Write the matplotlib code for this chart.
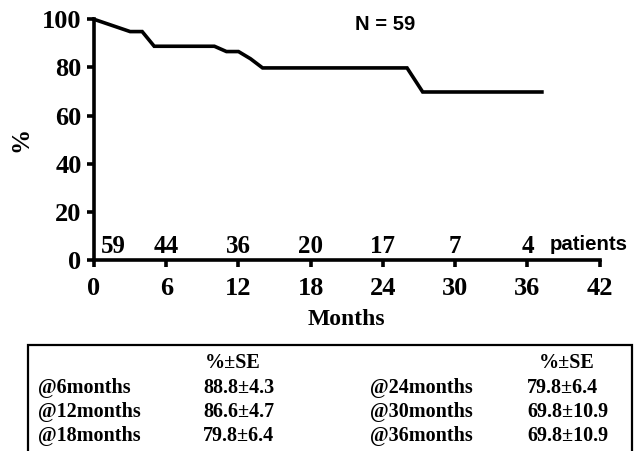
import matplotlib
matplotlib.use("Agg")
import matplotlib.pyplot as plt
from matplotlib.patches import Rectangle

# survival curve (months, %)
months = [0, 1, 2, 3, 4, 5, 10, 11, 12, 13, 14, 26, 27.3, 37.2]
survival = [100, 98.3, 96.6, 94.9, 94.9, 88.8, 88.8, 86.6, 86.6, 83.6, 79.8, 79.8, 69.8, 69.8]

# patients at risk
risk_months = [0, 6, 12, 18, 24, 30, 36]
risk_counts = [59, 44, 36, 20, 17, 7, 4]

x_ticks = [0, 6, 12, 18, 24, 30, 36, 42]
y_ticks = [0, 20, 40, 60, 80, 100]

# summary table
left_labels = ["@6months", "@12months", "@18months"]
left_values = ["88.8±4.3", "86.6±4.7", "79.8±6.4"]
right_labels = ["@24months", "@30months", "@36months"]
right_values = ["79.8±6.4", "69.8±10.9", "69.8±10.9"]

W, H = 637, 451
SERIF = "Liberation Serif"
SANS = "Liberation Sans"


def fx(px):
    return px / W


def fy(py):
    return 1 - py / H


fig = plt.figure(figsize=(W / 100, H / 100), dpi=100)
ax = fig.add_axes([fx(94), fy(260), fx(599.7) - fx(94), fy(19.3) - fy(260)])

ax.plot(months, survival, color="black", lw=2.6, clip_on=False,
        solid_joinstyle="miter")

ax.set_xlim(0, 42)
ax.set_ylim(0, 100)
ax.set_xticks(x_ticks)
ax.set_yticks(y_ticks)
for s in ["top", "right"]:
    ax.spines[s].set_visible(False)
for s in ["left", "bottom"]:
    ax.spines[s].set_linewidth(2.6)
ax.tick_params(axis="x", length=5, width=2.6, pad=7)
ax.tick_params(axis="y", length=5, width=2.6, pad=4)
for lab in ax.get_xticklabels() + ax.get_yticklabels():
    lab.set_fontfamily(SERIF)
    lab.set_fontweight("bold")
    lab.set_fontsize(19)

ax.set_xlabel("Months", fontfamily=SERIF, fontweight="bold", fontsize=17, labelpad=7)
ax.set_ylabel("%", fontfamily=SERIF, fontweight="bold", fontsize=18, labelpad=7)

# patient counts
for i, (m, c) in enumerate(zip(risk_months, risk_counts)):
    if i == 0:
        ax.annotate(str(c), (m, 5.6), xytext=(5, 0), textcoords="offset points",
                    ha="left", va="center", fontfamily=SERIF, fontweight="bold",
                    fontsize=18)
    else:
        ax.text(m, 5.6, str(c), ha="center", va="center", fontfamily=SERIF,
                fontweight="bold", fontsize=18)
fig.text(fx(550), fy(245), "patients", ha="left", va="center",
         fontfamily=SANS, fontweight="bold", fontsize=14.7)
fig.text(fx(385), fy(25), "N = 59", ha="center", va="center",
         fontfamily=SANS, fontweight="bold", fontsize=14.5)

# table box
fig.patches.append(Rectangle((fx(28), fy(470)), fx(632) - fx(28), fy(345) - fy(470),
                             transform=fig.transFigure, fill=False, lw=1.6,
                             edgecolor="black"))

tstyle = dict(fontfamily=SERIF, fontweight="bold", fontsize=14.5, va="center")
fig.text(fx(233), fy(363), "%±SE", ha="center", **tstyle)
fig.text(fx(567), fy(363), "%±SE", ha="center", **tstyle)
row_y = [388, 412, 436]
for y, a, b, c, d in zip(row_y, left_labels, left_values, right_labels, right_values):
    fig.text(fx(38), fy(y), a, ha="left", **tstyle)
    fig.text(fx(203), fy(y), b, ha="left", **tstyle)
    fig.text(fx(370), fy(y), c, ha="left", **tstyle)
    fig.text(fx(527), fy(y), d, ha="left", **tstyle)

fig.savefig("out.png", dpi=100)
